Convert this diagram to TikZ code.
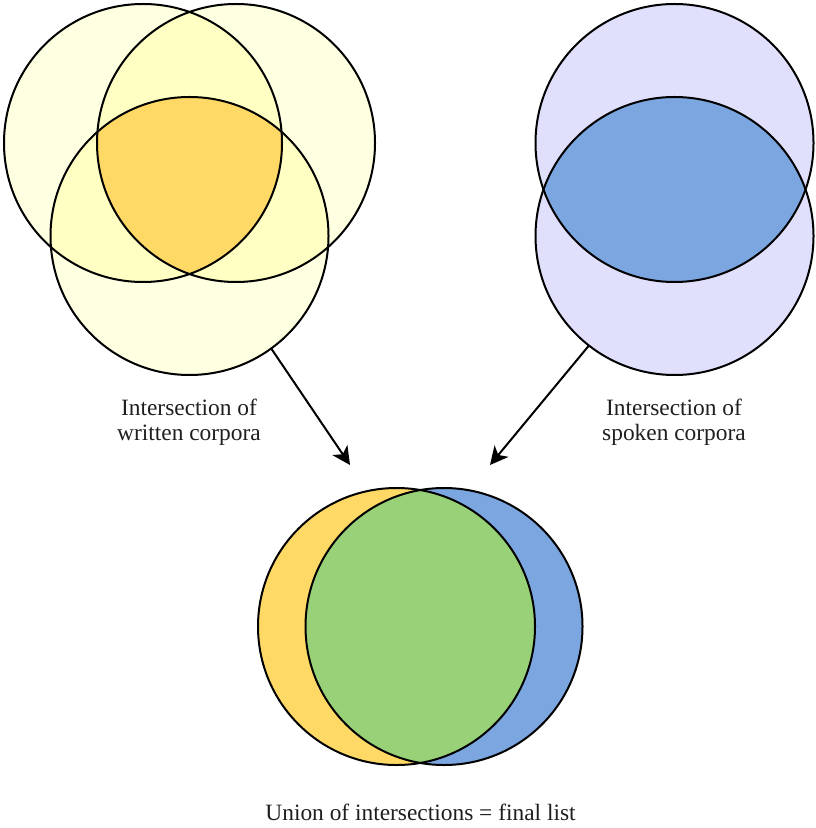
\documentclass[tikz,border=0pt]{standalone}
\usepackage{fontspec}
\setmainfont{Liberation Serif}
\usetikzlibrary{arrows.meta}
\definecolor{paleyellow}{HTML}{FFFFE1}
\definecolor{midyellow}{HTML}{FFFFC4}
\definecolor{goldfill}{HTML}{FFD966}
\definecolor{lavender}{HTML}{E0E0FD}
\definecolor{cornblue}{HTML}{7BA6E0}
\definecolor{leafgreen}{HTML}{98D178}
\begin{document}
\begin{tikzpicture}[x=0.5pt,y=-0.5pt,
  ring/.style={circle, draw=black, line width=1pt, minimum size=139pt, inner sep=0pt, outer sep=0pt},
  smallring/.style={ring, minimum size=138.5pt},
  lbl/.style={font=\fontsize{11.7pt}{12.5pt}\selectfont, align=center, inner sep=0pt, text=black!88},
  pointer/.style={draw=black, line width=1pt, -{Stealth[length=9pt,width=9pt,inset=2.5pt]}}]
\fill[white] (0,0) rectangle (815,828);
\useasboundingbox (0,0) rectangle (815,828);
\def\R{69.5pt}
\def\r{69.25pt}
% written corpora
\coordinate (cA) at (143,143);
\coordinate (cB) at (236,143);
\coordinate (cC) at (189.5,236);
\fill[paleyellow] (cA) circle[radius=\R] (cB) circle[radius=\R] (cC) circle[radius=\R];
\begin{scope}
  \clip (cA) circle[radius=\R];
  \fill[midyellow] (cB) circle[radius=\R] (cC) circle[radius=\R];
\end{scope}
\begin{scope}
  \clip (cB) circle[radius=\R];
  \fill[midyellow] (cC) circle[radius=\R];
\end{scope}
\begin{scope}
  \clip (cA) circle[radius=\R];
  \clip (cB) circle[radius=\R];
  \fill[goldfill] (cC) circle[radius=\R];
\end{scope}
\node[ring] (A) at (cA) {};
\node[ring] (B) at (cB) {};
\node[ring] (C) at (cC) {};
% spoken corpora
\coordinate (cD) at (674.5,143);
\coordinate (cE) at (674.5,236);
\fill[lavender] (cD) circle[radius=\R] (cE) circle[radius=\R];
\begin{scope}
  \clip (cD) circle[radius=\R];
  \fill[cornblue] (cE) circle[radius=\R];
\end{scope}
\node[ring] (D) at (cD) {};
\node[ring] (E) at (cE) {};
% union
\coordinate (cF) at (396.5,626.5);
\coordinate (cG) at (444,626.5);
\fill[goldfill] (cF) circle[radius=\r];
\fill[cornblue] (cG) circle[radius=\r];
\begin{scope}
  \clip (cF) circle[radius=\r];
  \fill[leafgreen] (cG) circle[radius=\r];
\end{scope}
\node[smallring] (F) at (cF) {};
\node[smallring] (G) at (cG) {};
% arrows
\coordinate (tipL) at (350,465);
\coordinate (tipR) at (490,465);
\draw[pointer] (C.-54.8) -- (tipL);
\draw[pointer] (E.-128.3) -- (tipR);
% labels
\node[lbl] (wlab) at (189,422.5) {Intersection of\\written corpora};
\node[lbl] (slab) at (674,422.5) {Intersection of\\spoken corpora};
\node[lbl, anchor=base] (ulab) at (420.5,820) {Union of intersections = final list};
\end{tikzpicture}
\end{document}
